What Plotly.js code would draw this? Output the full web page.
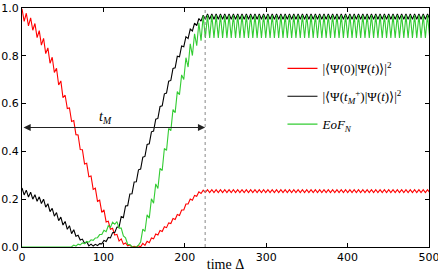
<!DOCTYPE html>
<html>
<head>
<meta charset="utf-8">
<script src="https://cdn.plot.ly/plotly-3.0.1.min.js"></script>
<style>
  html, body { margin: 0; padding: 0; background: #fff; }
  #chart { width: 438px; height: 272px; }
</style>
</head>
<body>
<div id="chart"></div>
<script>
// Sampling of the time axis (time in units of 1/Δ)
const timeStart = 0;
const timeStep = 2.65;

// Time of the measurement
const tMeasure = 225;

// Fidelity with the initial state |<Ψ(0)|Ψ(t)>|^2
const fidelityInitial = [
  0.997,0.944,0.978,0.925,0.959,0.907,0.935,0.876,0.905,0.845,
  0.873,0.809,0.833,0.769,0.794,0.730,0.748,0.678,0.695,0.625,
  0.635,0.579,0.582,0.525,0.529,0.470,0.469,0.408,0.407,0.347,
  0.350,0.294,0.297,0.241,0.246,0.191,0.196,0.145,0.155,0.105,
  0.108,0.074,0.078,0.050,0.053,0.025,0.034,0.012,0.017,0.005,
  0.008,0.000,0.003,0.000,0.005,0.001,0.015,0.007,0.024,0.018,
  0.038,0.034,0.054,0.050,0.069,0.065,0.085,0.081,0.101,0.098,
  0.119,0.115,0.136,0.132,0.155,0.155,0.180,0.180,0.201,0.196,
  0.216,0.212,0.231,0.224,0.238,
  0.228,0.240,0.228,0.240,0.228,0.240,0.228,0.240,
  0.228,0.240,0.228,0.240,0.228,0.240,0.228,0.240,
  0.228,0.240,0.228,0.240,0.228,0.240,0.228,0.240,
  0.228,0.240,0.228,0.240,0.228,0.240,0.228,0.240,
  0.228,0.240,0.228,0.240,0.228,0.240,0.228,0.240,
  0.228,0.240,0.228,0.240,0.228,0.240,0.228,0.240,
  0.228,0.240,0.228,0.240,0.228,0.240,0.228,0.240,
  0.228,0.240,0.228,0.240,0.228,0.240,0.228,0.240,
  0.228,0.240,0.228,0.240,0.228,0.240,0.228,0.240,
  0.228,0.240,0.228,0.240,0.228,0.240,0.228,0.240,
  0.228,0.240,0.228,0.240,0.228,0.240,0.228,0.240,
  0.228,0.240,0.228,0.240,0.228,0.240,0.228,0.240,
  0.228,0.240,0.228,0.240,0.228,0.240,0.228,0.240,
  0.228
];

// Fidelity with the post-measurement state |<Ψ(t_M^+)|Ψ(t)>|^2
const fidelityMeasured = [
  0.247,0.218,0.238,0.209,0.229,0.200,0.219,0.191,0.210,0.182,
  0.200,0.167,0.181,0.148,0.162,0.129,0.144,0.110,0.125,0.092,
  0.107,0.074,0.089,0.056,0.072,0.045,0.049,0.029,0.033,0.015,
  0.022,0.005,0.012,0.004,0.011,0.006,0.014,0.013,0.027,0.023,
  0.040,0.038,0.060,0.061,0.083,0.084,0.127,0.123,0.172,0.173,
  0.222,0.223,0.272,0.273,0.323,0.326,0.376,0.379,0.429,0.432,
  0.482,0.485,0.535,0.538,0.588,0.591,0.641,0.644,0.694,0.697,
  0.747,0.750,0.798,0.796,0.841,0.838,0.880,0.872,0.912,0.904,
  0.937,0.926,0.956,0.945,0.970,
  0.953,0.975,0.953,0.975,0.953,0.975,0.953,0.975,
  0.953,0.975,0.953,0.975,0.953,0.975,0.953,0.975,
  0.953,0.975,0.953,0.975,0.953,0.975,0.953,0.975,
  0.953,0.975,0.953,0.975,0.953,0.975,0.953,0.975,
  0.953,0.975,0.953,0.975,0.953,0.975,0.953,0.975,
  0.953,0.975,0.953,0.975,0.953,0.975,0.953,0.975,
  0.953,0.975,0.953,0.975,0.953,0.975,0.953,0.975,
  0.953,0.975,0.953,0.975,0.953,0.975,0.953,0.975,
  0.953,0.975,0.953,0.975,0.953,0.975,0.953,0.975,
  0.953,0.975,0.953,0.975,0.953,0.975,0.953,0.975,
  0.953,0.975,0.953,0.975,0.953,0.975,0.953,0.975,
  0.953,0.975,0.953,0.975,0.953,0.975,0.953,0.975,
  0.953,0.975,0.953,0.975,0.953,0.975,0.953,0.975,
  0.953
];

// Entanglement of formation EoF_N
const entanglementEoF = [
  0,0,0,0,0,0,0,0,0,0,
  0,0,0,0,0,0,0,0,0,0,
  0,0,0.002,0.001,0.008,0.004,0.012,0.009,0.017,0.014,
  0.023,0.020,0.030,0.028,0.038,0.039,0.052,0.052,0.070,0.064,
  0.089,0.082,0.104,0.095,0.106,0.079,0.079,0.046,0.038,0.011,
  0.010,0.001,0,0,0.008,0.021,0.075,0.065,0.135,0.121,
  0.202,0.183,0.264,0.245,0.329,0.320,0.412,0.404,0.496,0.487,
  0.575,0.562,0.650,0.637,0.720,0.701,0.792,0.753,0.850,0.801,
  0.892,0.842,0.938,0.863,0.968,
  0.875,0.970,0.875,0.970,0.875,0.970,0.875,0.970,
  0.875,0.970,0.875,0.970,0.875,0.970,0.875,0.970,
  0.875,0.970,0.875,0.970,0.875,0.970,0.875,0.970,
  0.875,0.970,0.875,0.970,0.875,0.970,0.875,0.970,
  0.875,0.970,0.875,0.970,0.875,0.970,0.875,0.970,
  0.875,0.970,0.875,0.970,0.875,0.970,0.875,0.970,
  0.875,0.970,0.875,0.970,0.875,0.970,0.875,0.970,
  0.875,0.970,0.875,0.970,0.875,0.970,0.875,0.970,
  0.875,0.970,0.875,0.970,0.875,0.970,0.875,0.970,
  0.875,0.970,0.875,0.970,0.875,0.970,0.875,0.970,
  0.875,0.970,0.875,0.970,0.875,0.970,0.875,0.970,
  0.875,0.970,0.875,0.970,0.875,0.970,0.875,0.970,
  0.875,0.970,0.875,0.970,0.875,0.970,0.875,0.970,
  0.875
];

const seriesNames = [
  '|⟨Ψ(0)|Ψ(<i>t</i>)⟩|<sup>2</sup>',
  '|⟨Ψ(<i>t</i><sub><i>M</i></sub><sup>+</sup>)|Ψ(<i>t</i>)⟩|<sup>2</sup>',
  '<i>EoF</i><sub><i>N</i></sub>'
];
const seriesColors = ['#ff0000', '#000000', '#33cc33'];
const seriesValues = [fidelityInitial, fidelityMeasured, entanglementEoF];

const xTicks = [0, 100, 200, 300, 400, 500];
const yTicks = [0.0, 0.2, 0.4, 0.6, 0.8, 1.0];

const traces = seriesValues.map((vals, k) => ({
  type: 'scatter',
  mode: 'lines',
  x0: timeStart,
  dx: timeStep,
  y: vals,
  name: seriesNames[k],
  legendgroup: 'g' + k,
  line: { color: seriesColors[k], width: 1.1 },
  cliponaxis: true
}));

const tickFont = { family: 'DejaVu Sans', size: 11, color: '#000' };

const layout = {
  width: 438,
  height: 272,
  margin: { l: 22, r: 9, t: 8, b: 25 },
  paper_bgcolor: '#ffffff',
  plot_bgcolor: '#ffffff',
  showlegend: true,
  legend: {
    x: 0.64, y: 0.81, xanchor: 'left', yanchor: 'top',
    bgcolor: 'rgba(0,0,0,0)',
    font: { family: 'Liberation Serif', size: 13, color: '#000' },
    tracegroupgap: 8
  },
  xaxis: {
    range: [0, 500],
    tickvals: xTicks,
    ticks: 'inside', ticklen: 4, tickcolor: '#000',
    ticklabeloverflow: 'allow',
    showline: true, linecolor: '#000', linewidth: 1, mirror: 'ticks',
    showgrid: false, zeroline: false,
    tickfont: tickFont,
    title: { text: 'time Δ', font: { family: 'Liberation Serif', size: 14, color: '#000' }, standoff: 4 }
  },
  yaxis: {
    range: [0, 1],
    tickvals: yTicks,
    tickformat: '.1f',
    ticks: 'inside', ticklen: 4, tickcolor: '#000',
    ticklabeloverflow: 'allow',
    showline: true, linecolor: '#000', linewidth: 1, mirror: 'ticks',
    showgrid: false, zeroline: false,
    tickfont: tickFont
  },
  shapes: [{
    type: 'line', xref: 'x', yref: 'y',
    x0: tMeasure, x1: tMeasure, y0: 0, y1: 1,
    line: { color: '#888', width: 1, dash: '3px,3px' }
  }],
  annotations: [
    {
      xref: 'x', yref: 'y', axref: 'x', ayref: 'y',
      x: tMeasure, y: 0.5, ax: 0, ay: 0.5,
      text: '', showarrow: true,
      arrowside: 'end+start', arrowhead: 2, arrowsize: 1.2, arrowwidth: 1.2,
      arrowcolor: '#222', standoff: 0, startstandoff: 0
    },
    {
      xref: 'x', yref: 'y', x: 103, y: 0.5,
      yanchor: 'bottom', xanchor: 'center',
      text: '<i>t</i><sub><i>M</i></sub>', showarrow: false,
      font: { family: 'Liberation Serif', size: 14, color: '#000' }
    }
  ]
};

Plotly.newPlot('chart', traces, layout, { displayModeBar: false, staticPlot: true });
</script>
</body>
</html>
